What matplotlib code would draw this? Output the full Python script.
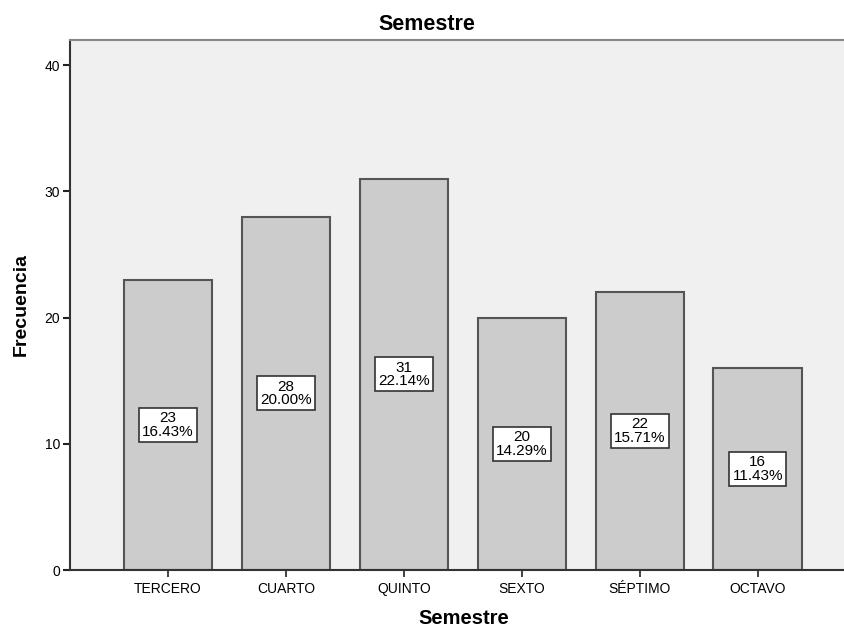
import matplotlib
matplotlib.use("Agg")
from matplotlib import pyplot as plt
import numpy as np

semestres = ["TERCERO", "CUARTO", "QUINTO", "SEXTO", "SÉPTIMO", "OCTAVO"]
frecuencias = [23, 28, 31, 20, 22, 16]
porcentajes = [16.43, 20.00, 22.14, 14.29, 15.71, 11.43]

plt.rcParams['font.family'] = ['Liberation Sans', 'DejaVu Sans']

W, H = 845, 627
fig = plt.figure(figsize=(W/100, H/100), dpi=100)
ax = fig.add_axes([70/W, 57/H, 775/W, 530/H])
ax.set_facecolor('#f0f0f0')

x = np.arange(len(semestres))
ax.bar(x, frecuencias, width=0.75, color='#cccccc', edgecolor='#555555', linewidth=1.5, zorder=2)

for xi, f, p in zip(x, frecuencias, porcentajes):
    ax.text(xi, f/2, f"{f}\n{p:.2f}%", ha='center', va='center', fontsize=11, linespacing=0.95,
            bbox=dict(boxstyle='square,pad=0.22', facecolor='white', edgecolor='#333333', linewidth=1.2),
            zorder=3)

ax.set_xlim(-0.83, 5.74)
ax.set_ylim(0, 42)
ax.set_yticks([0, 10, 20, 30, 40])
ax.set_xticks(x)
ax.set_xticklabels(semestres, fontsize=10)
ax.tick_params(axis='y', labelsize=10, length=5, width=1.5, color='#222222', pad=2)
ax.tick_params(axis='x', length=5, width=1.2, color='#222222')

for s in ['left', 'bottom']:
    ax.spines[s].set_color('#333333')
    ax.spines[s].set_linewidth(1.5)
ax.spines['top'].set_color('#888888')
ax.spines['top'].set_linewidth(1.5)
ax.spines['right'].set_visible(False)

# titulo y etiquetas colocados como en el grafico de SPSS
fig.text(426.5/W, (H - 30)/H, "Semestre", fontsize=15.5, fontweight='bold', ha='center', va='baseline')
fig.text(463.5/W, (H - 624)/H, "Semestre", fontsize=14.5, fontweight='bold', ha='center', va='baseline')
fig.text(21/W, (H - 305)/H, "Frecuencia", fontsize=14, fontweight='bold', rotation=90,
         ha='center', va='center')

plt.savefig('out.png', dpi=100)
